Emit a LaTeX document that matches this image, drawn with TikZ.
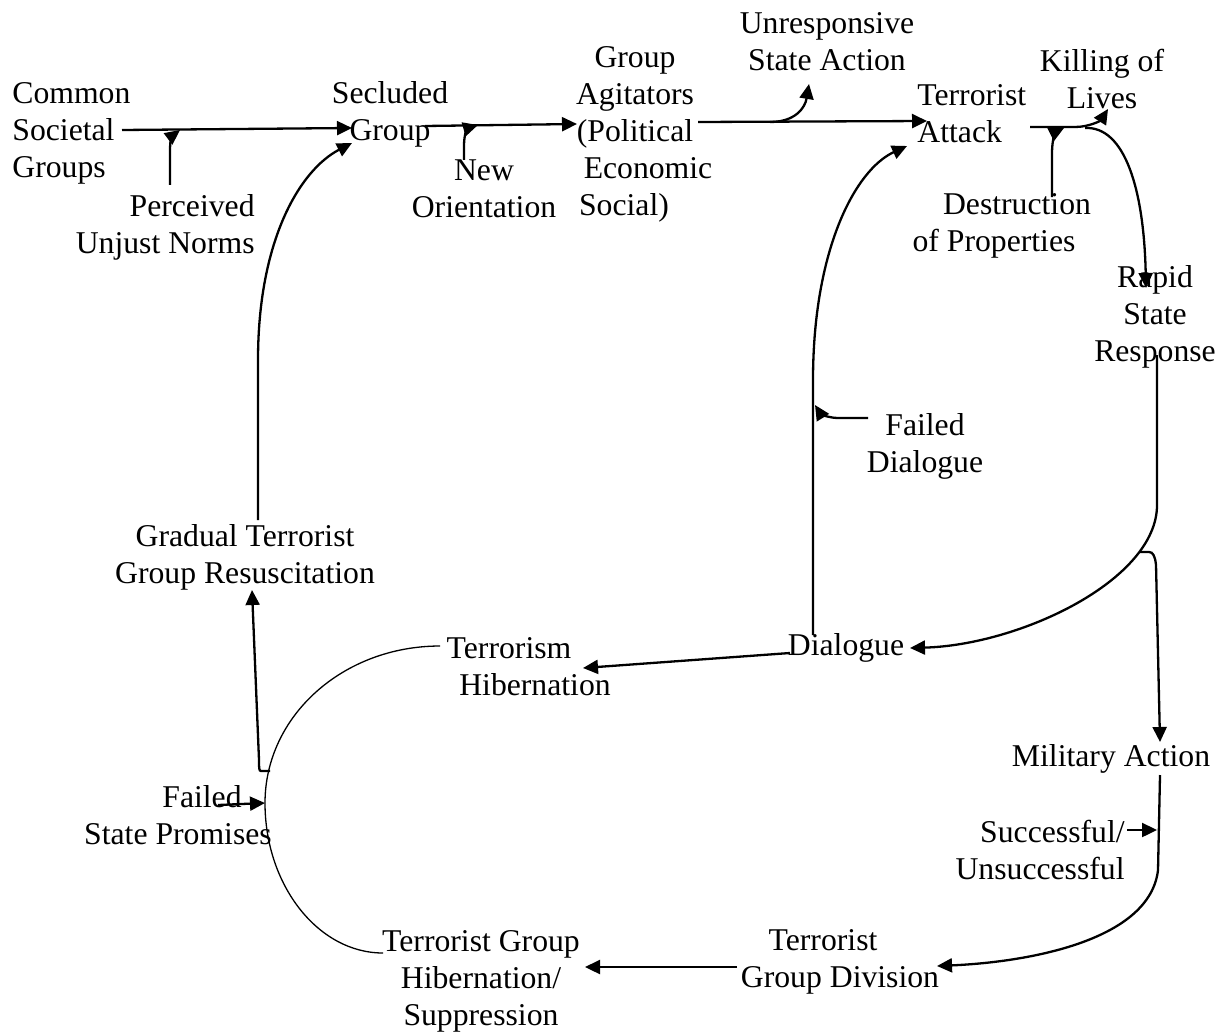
\documentclass[tikz,border=0pt]{standalone}
\usepackage{fontspec}
\setmainfont{Liberation Serif}
\usetikzlibrary{arrows.meta}
\begin{document}
\begin{tikzpicture}[x=0.5pt,y=-0.5pt,
  lbl/.style={inner sep=0pt,font=\fontsize{15.85pt}{18.5pt}\selectfont},
  arr/.style={line width=1.15pt,-{Triangle[length=7.5pt,width=7pt]}},
  plain/.style={line width=1.15pt},
  thin/.style={line width=0.65pt}]
\useasboundingbox (0,0) rectangle (1218,1032);
% ---- nodes ----
\node[lbl,anchor=west,align=left] (cs) at (12,133) {Common\\Societal\\Groups};
\node[lbl,align=center] (sg) at (390,114) {Secluded\\Group};
\node[lbl,anchor=east,align=right] (pu) at (255,227) {Perceived\\Unjust Norms};
\node[lbl,align=center] (no) at (484,189) {New\\Orientation};
\node[lbl,align=center] (ga) at (635,134) {Group\\Agitators\hspace*{7pt}\\(Political\hspace*{4pt}\\\hspace*{13pt}Economic\\Social)\hspace*{11pt}};
\node[lbl,align=center] (us) at (827,42) {Unresponsive\\State Action};
\node[lbl,anchor=west,align=left] (ta) at (917,114) {Terrorist\\Attack};
\node[lbl,align=center] (kl) at (1102,79) {Killing of\\Lives};
\node[lbl,align=center] (dp) at (1005,226) {\hspace*{12pt}Destruction\\of Properties\hspace*{11pt}};
\node[lbl,align=center] (rs) at (1155,317) {Rapid\\State\\Response};
\node[lbl,align=center] (fd) at (925,446) {Failed\\Dialogue};
\node[lbl,align=center] (gt) at (245,557) {Gradual Terrorist\\Group Resuscitation};
\node[lbl,align=center] (th) at (522,667) {Terrorism\hspace*{13pt}\\\hspace*{13pt}Hibernation};
\node[lbl] (dl) at (846,648) {Dialogue};
\node[lbl] (ma) at (1111,759) {Military Action};
\node[lbl,anchor=east,align=right] (su) at (1125,850) {Successful/\\Unsuccessful};
\node[lbl,align=center] (td) at (832,962) {Terrorist\hspace*{9pt}\\\hspace*{8pt}Group Division};
\node[lbl,align=center] (tg) at (481,981) {Terrorist Group\\Hibernation/\\Suppression};
\node[lbl,align=center] (fs) at (190,815) {\hspace*{12pt}Failed\\State Promises\hspace*{12pt}};
% ---- connector end points ----
\coordinate (csO) at (122,130);
\coordinate (sgI) at (352,128);
\coordinate (puO) at (170,185);
\coordinate (puJ) at (180,130);
\coordinate (sgO) at (425,126);
\coordinate (gaI) at (577,124);
\coordinate (noO) at (464,160);
\coordinate (noJ) at (478,125);
\coordinate (gaO) at (698,122);
\coordinate (taI) at (927,121);
\coordinate (usJ) at (770,122);
\coordinate (usI) at (809,84);
\coordinate (taO) at (1030,127);
\coordinate (klI) at (1108,109);
\coordinate (dpO) at (1052,197);
\coordinate (dpJ) at (1064,128);
\coordinate (rsJ) at (1085,128);
\coordinate (rsI) at (1146,288);
\coordinate (rsO) at (1157,355);
\coordinate (dlI) at (910,648);
\coordinate (maJ) at (1140,552);
\coordinate (maI) at (1160,742);
\coordinate (dlO) at (790,653);
\coordinate (thI) at (583,668);
\coordinate (dlU) at (813,635);
\coordinate (taI2) at (907,146);
\coordinate (fdO) at (868,418);
\coordinate (fdJ) at (815,405);
\coordinate (maO) at (1160,775);
\coordinate (tdI) at (937,966);
\coordinate (suO) at (1127,830);
\coordinate (suJ) at (1157,830);
\coordinate (tdO) at (737,967);
\coordinate (tgI) at (585,967);
\coordinate (thA) at (440,646);
\coordinate (arcL) at (265,803);
\coordinate (tgA) at (383,953);
\coordinate (fsO) at (218,805);
\coordinate (arcJ) at (270,771);
\coordinate (gtI) at (252,590);
\coordinate (gtO) at (258,520);
\coordinate (sgI2) at (352,143);
% ---- connectors ----
\draw[arr] (csO) -- (sgI);
\draw[arr] (puO) -- (170,150) .. controls (170,141) and (172,136) .. (puJ);
\draw[arr] (sgO) -- (gaI);
\draw[arr] (noO) -- (464,145) .. controls (464,134) and (468,128) .. (noJ);
\draw[arr] (gaO) -- (taI);
\draw[arr] (usJ) .. controls (795,122) and (805,108) .. (usI);
\draw[arr] (taO) -- (1075,127) .. controls (1090,127) and (1101,120) .. (klI);
\draw[arr] (dpO) -- (1052,152) .. controls (1052,140) and (1056,132) .. (dpJ);
\draw[arr] (rsJ) .. controls (1125,126) and (1144,190) .. (rsI);
\draw[arr] (rsO) -- (1157,505) .. controls (1157,580) and (1020,645) .. (dlI);
\draw[arr] (maJ) -- (1149,552) .. controls (1153,552) and (1155,556) .. (1156,565) -- (maI);
\draw[arr] (dlO) -- (thI);
\draw[arr] (dlU) -- (813,380) .. controls (813,250) and (855,170) .. (taI2);
\draw[arr] (fdO) -- (838,418) .. controls (828,418) and (820,413) .. (fdJ);
\draw[arr] (maO) -- (1158,870) .. controls (1150,940) and (1030,962) .. (tdI);
\draw[arr] (suO) -- (suJ);
\draw[arr] (tdO) -- (tgI);
\draw[thin] (thA) .. controls (343,646) and (265,716) .. (arcL) .. controls (265,885) and (318,953) .. (tgA);
\draw[arr] (fsO) -- (arcL);
\draw[arr] (arcJ) -- (261,771) .. controls (259,771) and (259,768) .. (259,760) -- (gtI);
\draw[arr] (gtO) -- (258,360) .. controls (258,240) and (300,170) .. (sgI2);
\end{tikzpicture}
\end{document}
